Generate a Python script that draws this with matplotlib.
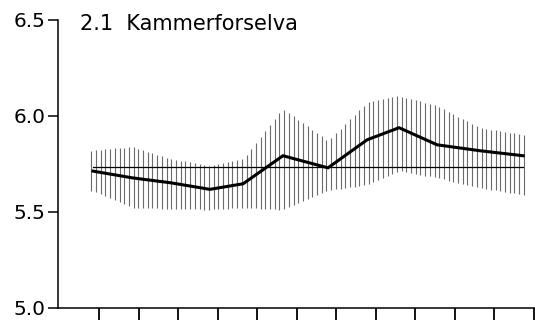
import numpy as np
import matplotlib
matplotlib.use('Agg')
import matplotlib.pyplot as plt

# sampling time (months into the record) and pH statistics per sample
sample_time = [0.84, 1.83, 2.81, 3.80, 4.64, 5.65, 6.79, 7.78, 8.59, 9.55, 10.64, 11.73]
ph_mean = [5.713, 5.678, 5.652, 5.618, 5.647, 5.793, 5.730, 5.876, 5.939, 5.850, 5.819, 5.793]
ph_upper = [5.819, 5.840, 5.777, 5.741, 5.777, 6.037, 5.871, 6.069, 6.105, 6.053, 5.939, 5.902]
ph_lower = [5.611, 5.522, 5.517, 5.512, 5.522, 5.512, 5.611, 5.642, 5.715, 5.678, 5.626, 5.590]
ph_overall = 5.733

month_ticks = list(range(1, 13))
y_ticks = [5.0, 5.5, 6.0, 6.5]
y_labels = ['5.0', '5.5', '6.0', '6.5']
station = '2.1  Kammerforselva'

fig = plt.figure(figsize=(5.35, 3.25), dpi=100)
ax = fig.add_axes([58 / 535, 17 / 325, 477 / 535, 288 / 325])

# spread band drawn as vertical hatching
hx = np.arange(sample_time[0] - 0.04, sample_time[-1] + 0.03, 0.119)
ax.vlines(hx, np.interp(hx, sample_time, ph_lower), np.interp(hx, sample_time, ph_upper),
          colors='0.42', linewidth=0.8, zorder=1)

ax.plot([sample_time[0], sample_time[-1]], [ph_overall, ph_overall],
        color='black', linewidth=0.9, zorder=2)
ax.plot(sample_time, ph_mean, color='black', linewidth=2.2, solid_joinstyle='miter', zorder=3)

ax.set_xlim(-0.045, 12.03)
ax.set_ylim(5.0, 6.5)
ax.set_xticks(month_ticks)
ax.set_xticklabels([])
ax.set_yticks(y_ticks)
ax.set_yticklabels(y_labels, fontsize=14.5)

for side in ['top', 'right']:
    ax.spines[side].set_visible(False)
for side in ['left', 'bottom']:
    ax.spines[side].set_linewidth(1.1)
ax.tick_params(axis='y', direction='out', length=7, width=1.1, pad=2)
ax.tick_params(axis='x', direction='out', length=8.5, width=1.3)

fig.text(80 / 535, 1 - 30 / 325, station, fontsize=15, va='baseline', ha='left')

fig.savefig('out.png', dpi=100)
